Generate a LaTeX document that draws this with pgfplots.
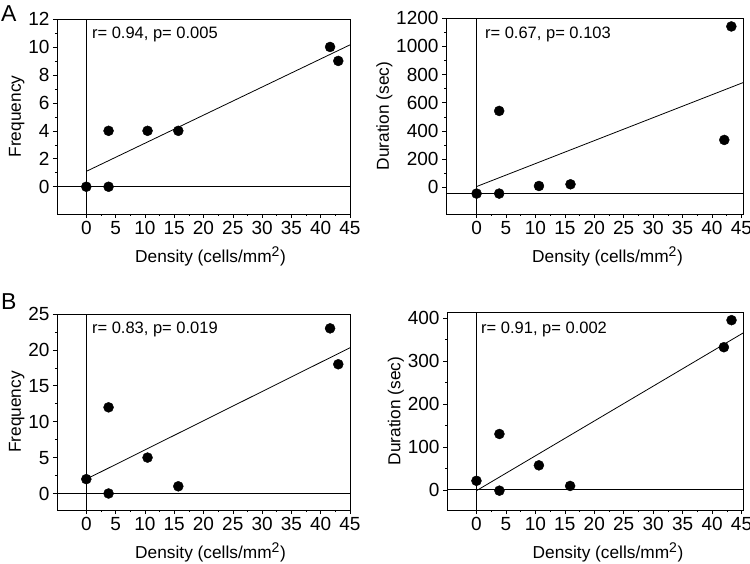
\documentclass[border=0pt]{standalone}
\usepackage{fontspec}
\setmainfont{Liberation Sans}
\usepackage{pgfplots}
\pgfplotsset{compat=1.18}
\pgfplotsset{
  myax/.style={
    scale only axis,
    anchor=south west,
    axis line style={black, line width=0.8pt},
    tick pos=left,
    tick align=outside,
    major tick length=4pt,
    minor tick length=2pt,
    every tick/.style={black, line width=0.6pt},
    minor x tick num=1,
    minor y tick num=1,
    xtick={0,5,...,45},
    /pgf/number format/assume math mode=true,
    tick label style={font=\fontsize{19}{21}\selectfont},
    label style={font=\fontsize{17.3}{20}\selectfont},
    xlabel style={yshift=-5pt, xshift=7pt},
    ylabel style={yshift=-3pt},
    xlabel={Density (cells/mm\textsuperscript{\fontsize{14}{16}\selectfont 2})},
    scaled ticks=false,
    /pgf/number format/1000 sep={},
    clip=false,
  },
  dots/.style={only marks, mark=*, mark size=5pt, black},
  thinl/.style={black, line width=0.8pt, mark=none},
}
\begin{document}
\begin{tikzpicture}
\useasboundingbox (0pt,0pt) rectangle (750pt,563pt);
\node[anchor=north west, inner sep=0pt, font=\fontsize{23}{25}\selectfont] at (1pt,558pt) {A};
\node[anchor=north west, inner sep=0pt, font=\fontsize{23}{25}\selectfont] at (1pt,270pt) {B};

% A left
\begin{axis}[myax, at={(57pt,349pt)}, width=293pt, height=195pt,
  xmin=-5, xmax=45, ymin=-1.95, ymax=12, ytick={0,2,...,12},
  ylabel={Frequency}]
\addplot[thinl] coordinates {(-5,0) (45,0)};
\addplot[thinl] coordinates {(0,-1.95) (0,12)};
\addplot[thinl] coordinates {(0,1.1) (45,10.15)};
\addplot[dots] coordinates {(0,0) (3.8,0) (3.8,4) (10.45,4) (15.7,4) (41.6,10) (43.0,9)};
\node[anchor=north west, inner sep=0pt, font=\fontsize{16.5}{19}\selectfont] at (rel axis cs:0.119,0.958) {r= 0.94, p= 0.005};
\end{axis}

% A right
\begin{axis}[myax, at={(446pt,349pt)}, width=297pt, height=196pt,
  xmin=-5.2, xmax=45.28, ymin=-190, ymax=1202, ytick={0,200,...,1200},
  ylabel={Duration (sec)}, xlabel style={xshift=6pt}]
\addplot[thinl] coordinates {(-5.2,-45) (45.28,-45)};
\addplot[thinl] coordinates {(0,-190) (0,1202)};
\addplot[thinl] coordinates {(0,5) (45.28,743)};
\addplot[dots] coordinates {(0,-45) (3.84,-45) (3.84,542) (10.6,9) (15.96,21) (42.1,336) (43.3,1142)};
\node[anchor=north west, inner sep=0pt, font=\fontsize{16.5}{19}\selectfont] at (rel axis cs:0.131,0.955) {r= 0.67, p= 0.103};
\end{axis}

% B left
\begin{axis}[myax, at={(57pt,53pt)}, width=293pt, height=196pt,
  xmin=-5, xmax=45, ymin=-2.3, ymax=25, ytick={0,5,...,25},
  ylabel={Frequency}]
\addplot[thinl] coordinates {(-5,0) (45,0)};
\addplot[thinl] coordinates {(0,-2.3) (0,25)};
\addplot[thinl] coordinates {(0,2) (45,20.3)};
\addplot[dots] coordinates {(0,2) (3.8,0) (3.8,12) (10.45,5) (15.7,1) (41.6,23) (43.0,18)};
\node[anchor=north west, inner sep=0pt, font=\fontsize{16.5}{19}\selectfont] at (rel axis cs:0.119,0.962) {r= 0.83, p= 0.019};
\end{axis}

% B right
\begin{axis}[myax, at={(447pt,53pt)}, width=296pt, height=198pt,
  xmin=-5, xmax=45.25, ymin=-47, ymax=414, ytick={0,100,...,400},
  ylabel={Duration (sec)}, xlabel style={xshift=6pt}]
\addplot[thinl] coordinates {(-5,0) (45.25,0)};
\addplot[thinl] coordinates {(0,-47) (0,414)};
\addplot[thinl] coordinates {(0,-2) (45.25,365)};
\addplot[dots] coordinates {(0,21) (3.9,-2) (3.9,130) (10.6,57) (15.9,9) (42.0,332) (43.3,395)};
\node[anchor=north west, inner sep=0pt, font=\fontsize{16.5}{19}\selectfont] at (rel axis cs:0.115,0.95) {r= 0.91, p= 0.002};
\end{axis}
\end{tikzpicture}
\end{document}
